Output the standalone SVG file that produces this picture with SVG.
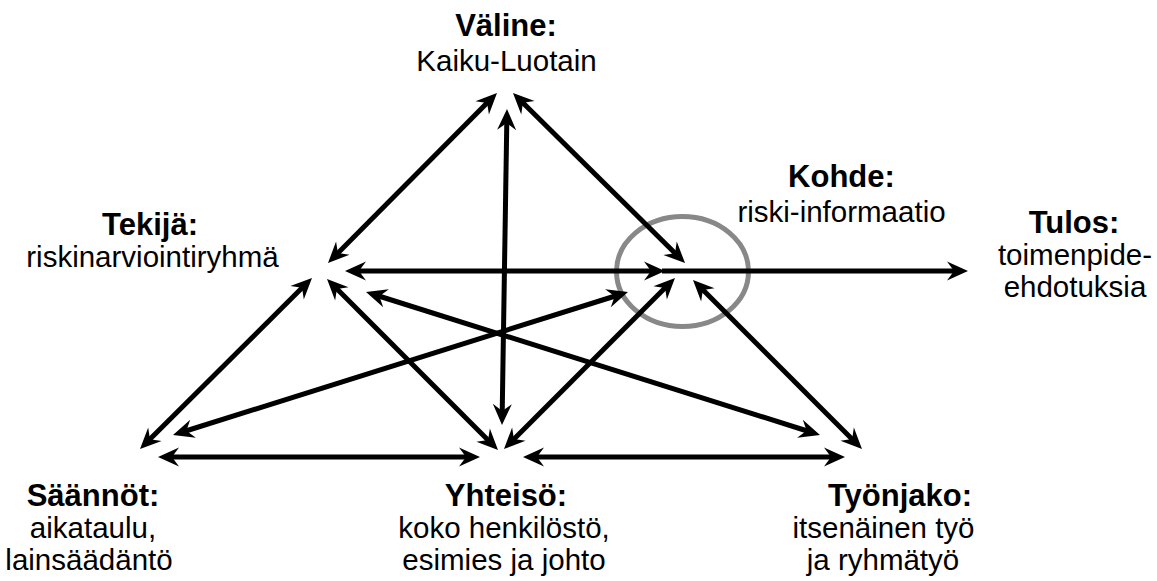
<svg xmlns="http://www.w3.org/2000/svg" width="1157" height="581" viewBox="0 0 1157 581">
<style>
  text { font-family: "Liberation Sans", Arial, sans-serif; fill: #000; text-anchor: middle; }
  .t { font-weight: bold; font-size: 31px; }
  .s { font-size: 29.5px; }
  .c { stroke: #000; stroke-width: 5; fill: none; marker-start: url(#ah); marker-end: url(#ah); }
  .one { marker-start: none; }
</style>
<defs>
  <marker id="ah" markerUnits="userSpaceOnUse" markerWidth="40" markerHeight="40" refX="0" refY="0" orient="auto-start-reverse" overflow="visible">
    <path d="M10,0 L-11,-9.5 L-4,0 L-11,9.5 Z" fill="#000"/>
  </marker>
</defs>
<rect width="1157" height="581" fill="#fff"/>
<g id="focus-ring">
  <ellipse cx="682.5" cy="271.5" rx="66" ry="55" fill="none" stroke="#888" stroke-width="5"/>
</g>
<g id="connectors">
  <line class="c" x1="335.05" y1="255.91" x2="489.95" y2="100.09"/>
  <line class="c" x1="520.1" y1="100" x2="677.9" y2="255.97"/>
  <line class="c" x1="506.84" y1="119" x2="502.16" y2="415"/>
  <line class="c" x1="355" y1="271" x2="655" y2="271"/>
  <line class="c one" x1="662" y1="271" x2="958" y2="271"/>
  <line class="c" x1="304.9" y1="285.05" x2="147.1" y2="441.95"/>
  <line class="c" x1="334.07" y1="286.07" x2="490.93" y2="442.93"/>
  <line class="c" x1="375.54" y1="295" x2="810.46" y2="432"/>
  <line class="c" x1="182.54" y1="432" x2="618.46" y2="295"/>
  <line class="c" x1="511.07" y1="441.93" x2="667.93" y2="285.07"/>
  <line class="c" x1="854.93" y1="441.93" x2="700.07" y2="287.07"/>
  <line class="c" x1="168" y1="457" x2="470" y2="457"/>
  <line class="c" x1="533" y1="457" x2="835" y2="457"/>
</g>
<g id="valine">
  <text class="t" x="506" y="36">Väline:</text>
  <text class="s" x="506.5" y="71">Kaiku-Luotain</text>
</g>
<g id="tekija">
  <text class="t" x="150" y="235">Tekijä:</text>
  <text class="s" x="152.5" y="266.5">riskinarviointiryhmä</text>
</g>
<g id="kohde">
  <text class="t" x="841.5" y="187">Kohde:</text>
  <text class="s" x="841.5" y="222">riski-informaatio</text>
</g>
<g id="tulos">
  <text class="t" x="1074" y="233">Tulos:</text>
  <text class="s" x="1075" y="265">toimenpide-</text>
  <text class="s" x="1075" y="297">ehdotuksia</text>
</g>
<g id="saannot">
  <text class="t" x="93" y="506">Säännöt:</text>
  <text class="s" x="93" y="538">aikataulu,</text>
  <text class="s" x="89" y="570">lainsäädäntö</text>
</g>
<g id="yhteiso">
  <text class="t" x="506" y="506">Yhteisö:</text>
  <text class="s" x="504" y="538">koko henkilöstö,</text>
  <text class="s" x="504" y="570">esimies ja johto</text>
</g>
<g id="tyonjako">
  <text class="t" x="900" y="506">Työnjako:</text>
  <text class="s" x="883.5" y="538">itsenäinen työ</text>
  <text class="s" x="883" y="570">ja ryhmätyö</text>
</g>
</svg>
